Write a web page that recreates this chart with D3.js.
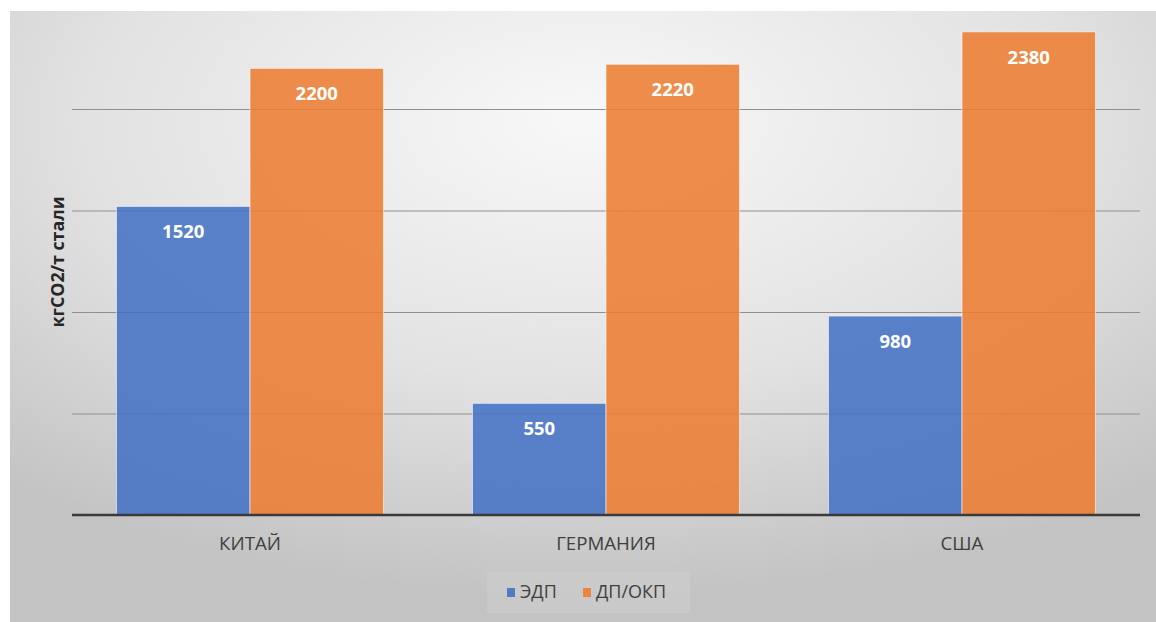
<!DOCTYPE html>
<html>
<head>
<meta charset="utf-8">
<script src="https://cdn.jsdelivr.net/npm/d3@7"></script>
<style>
  html, body { margin: 0; padding: 0; background: #ffffff; }
  svg { display: block; }
  text { font-family: "Open Sans", "Noto Sans", sans-serif; }
</style>
</head>
<body>
<svg id="chart" width="1156" height="622"></svg>
<script>
// Emissions per tonne of steel, by country and production route
const categories = ["КИТАЙ", "ГЕРМАНИЯ", "США"];
const seriesNames = ["ЭДП", "ДП/ОКП"];
const edpValues = [1520, 550, 980];
const dpValues = [2200, 2220, 2380];
const seriesColors = ["#4472c4", "#ed7d31"];
const yTicks = [500, 1000, 1500, 2000];
const yTitle = "кгCO2/т стали";

const W = 1156, H = 622;
const svg = d3.select("#chart");

// Chart area background with soft radial shading
const defs = svg.append("defs");
const grad = defs.append("radialGradient")
  .attr("id", "bg").attr("cx", 0.5).attr("cy", 0.18).attr("r", 0.78);
grad.append("stop").attr("offset", 0).attr("stop-color", "#f8f8f8");
grad.append("stop").attr("offset", 0.55).attr("stop-color", "#e2e2e2");
grad.append("stop").attr("offset", 1).attr("stop-color", "#c3c3c3");
svg.append("rect").attr("x", 10).attr("y", 11).attr("width", W - 10).attr("height", H - 11)
  .attr("fill", "url(#bg)");

const plot = { left: 72, right: 1140, top: 7.5, bottom: 515 };

const y = d3.scaleLinear().domain([0, 2500]).range([plot.bottom, plot.top]);
const x = d3.scaleBand().domain(categories).range([plot.left, plot.right]).padding(0);
const groupWidth = x.bandwidth() * 0.75;
const xs = d3.scaleBand().domain(seriesNames).range([0, groupWidth]).padding(0);

// Gridlines
svg.append("g")
  .attr("transform", `translate(${plot.left},0)`)
  .call(d3.axisLeft(y).tickValues(yTicks).tickSize(-(plot.right - plot.left)).tickFormat(""))
  .call(g => g.select(".domain").remove())
  .call(g => g.selectAll(".tick line").attr("stroke", "#8f8f8f").attr("stroke-width", 1.2));

// Bars
const rows = categories.map((c, i) => ({ cat: c, vals: [edpValues[i], dpValues[i]] }));
const groups = svg.append("g").selectAll("g").data(rows).join("g")
  .attr("transform", d => `translate(${x(d.cat) + (x.bandwidth() - groupWidth) / 2},0)`);

const bars = groups.selectAll("g.bar")
  .data(d => d.vals.map((v, j) => ({ series: seriesNames[j], j, v })))
  .join("g").attr("class", "bar");

bars.append("rect")
  .attr("x", d => xs(d.series))
  .attr("y", d => y(d.v))
  .attr("width", xs.bandwidth())
  .attr("height", d => plot.bottom - y(d.v))
  .attr("fill", d => seriesColors[d.j])
  .attr("fill-opacity", 0.87)
  .attr("stroke", "#ffffff")
  .attr("stroke-opacity", 0.55)
  .attr("stroke-width", 1);

bars.append("text")
  .attr("x", d => xs(d.series) + xs.bandwidth() / 2)
  .attr("y", d => y(d.v) + 32)
  .attr("text-anchor", "middle")
  .attr("fill", "#ffffff")
  .attr("font-size", 18.5)
  .attr("font-weight", 700)
  .text(d => d.v);

// Baseline / category axis
const xAxis = svg.append("g")
  .attr("transform", `translate(0,${plot.bottom})`)
  .call(d3.axisBottom(x).tickSize(0).tickPadding(0));
xAxis.select(".domain").attr("stroke", "#3a3a3a").attr("stroke-width", 2.6)
  .attr("d", `M${plot.left},0H${plot.right}`);
xAxis.selectAll(".tick text")
  .attr("y", 35).attr("dy", 0)
  .attr("fill", "#404040")
  .attr("font-size", 18.7)
  .attr("font-family", "\"Open Sans\", \"Noto Sans\", sans-serif");

// Y axis title
svg.append("text")
  .attr("transform", `translate(64,${(11 + plot.bottom) / 2 - 1}) rotate(-90)`)
  .attr("text-anchor", "middle")
  .attr("fill", "#262626")
  .attr("font-size", 17.8)
  .attr("font-weight", 700)
  .text(yTitle);

// Legend
const legend = svg.append("g");
legend.append("rect").attr("x", 487).attr("y", 572).attr("width", 203).attr("height", 41)
  .attr("fill", "#ffffff").attr("fill-opacity", 0.1);
const legendX = [507, 583];
const items = legend.selectAll("g.item").data(seriesNames).join("g").attr("class", "item")
  .attr("transform", (d, i) => `translate(${legendX[i]},0)`);
items.append("rect").attr("x", 0).attr("y", 588).attr("width", 8).attr("height", 9)
  .attr("fill", (d, i) => seriesColors[i]).attr("fill-opacity", 0.9);
items.append("text").attr("x", 13).attr("y", 598)
  .attr("fill", "#404040").attr("font-size", 18).text(d => d);
</script>
</body>
</html>
